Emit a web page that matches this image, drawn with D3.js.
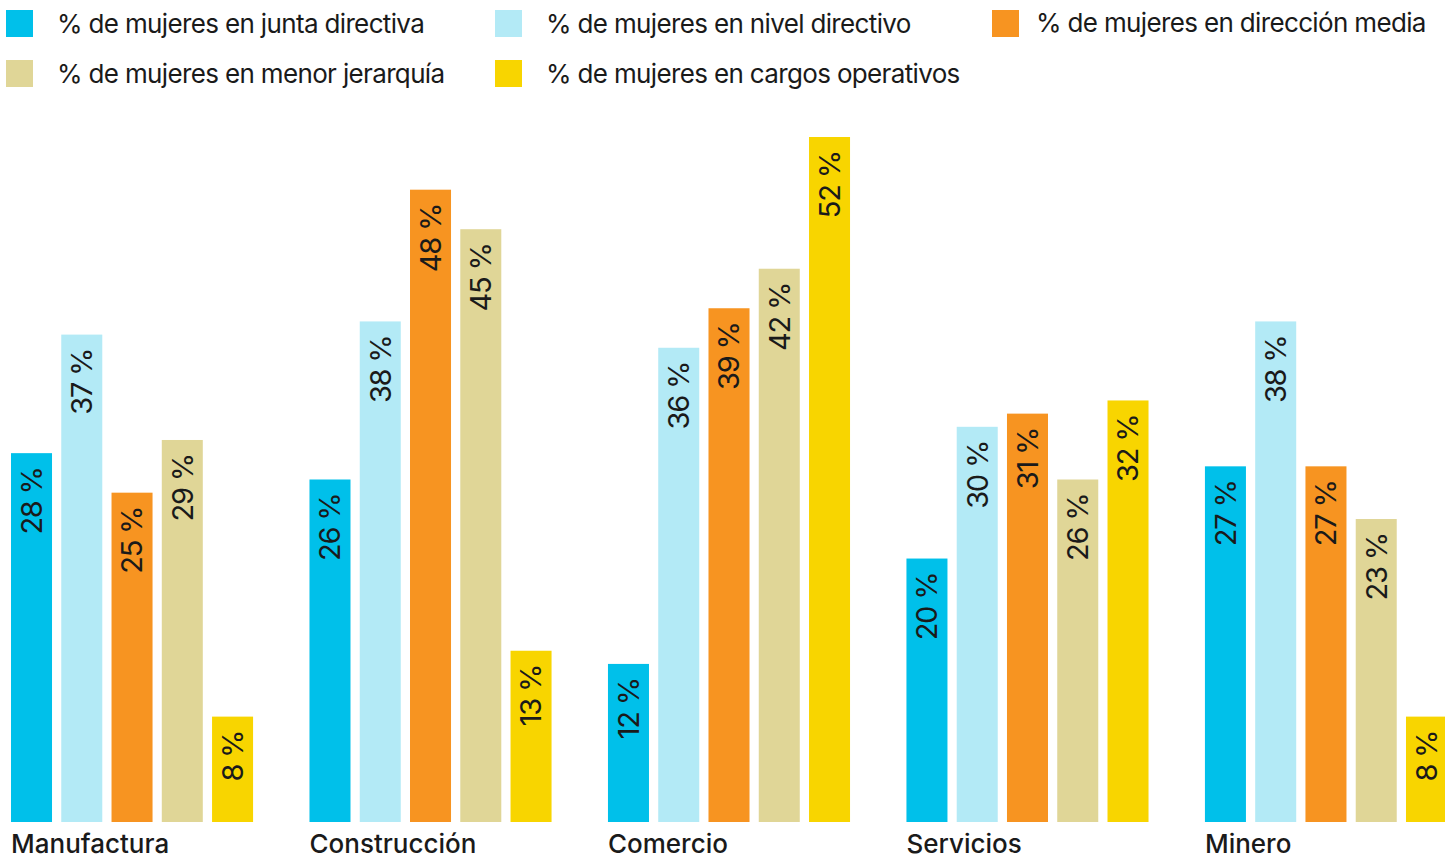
<!DOCTYPE html>
<html>
<head>
<meta charset="utf-8">
<script src="https://cdn.jsdelivr.net/npm/d3@7"></script>
<style>
  body { margin: 0; background: #fff; }
  text { font-family: Inter, "Noto Sans", sans-serif; fill: #1a1a1a; }
</style>
</head>
<body>
<div id="chart"></div>
<script>
// data
const categories = ["Manufactura", "Construcción", "Comercio", "Servicios", "Minero"];
const seriesNames = [
  "% de mujeres en junta directiva",
  "% de mujeres en nivel directivo",
  "% de mujeres en dirección media",
  "% de mujeres en menor jerarquía",
  "% de mujeres en cargos operativos"
];
const juntaDirectiva = [28, 26, 12, 20, 27];
const nivelDirectivo = [37, 38, 36, 30, 38];
const direccionMedia = [25, 48, 39, 31, 27];
const menorJerarquia = [29, 45, 42, 26, 23];
const cargosOperativos = [8, 13, 52, 32, 8];
const seriesValues = [juntaDirectiva, nivelDirectivo, direccionMedia, menorJerarquia, cargosOperativos];
const colors = ["#00c0ea", "#b3eaf6", "#f79421", "#e0d697", "#f8d500"];

// setup
const width = 1445, height = 860;
const svg = d3.select("#chart").append("svg")
    .attr("width", width)
    .attr("height", height);

const x0 = d3.scaleBand()
    .domain(categories)
    .range([11, 1447])
    .paddingInner(0.189)
    .paddingOuter(0);

const x1 = d3.scaleBand()
    .domain(d3.range(seriesNames.length))
    .range([0, x0.bandwidth()])
    .paddingInner(0.184)
    .paddingOuter(0);

const y = d3.scaleLinear().domain([0, 52]).range([822, 137]);

// legend: [square x, square y, text offset, text baseline]
const legendPos = [[6, 10, 51, 23], [495, 10, 51, 23], [992, 10, 44, 22], [6, 60, 51, 23], [495, 60, 51, 23]];
const legend = svg.append("g").selectAll("g")
    .data(seriesNames)
    .join("g")
    .attr("transform", (d, i) => "translate(" + legendPos[i][0] + "," + legendPos[i][1] + ")");
legend.append("rect")
    .attr("width", 27)
    .attr("height", 27)
    .attr("fill", (d, i) => colors[i]);
legend.append("text")
    .attr("x", (d, i) => legendPos[i][2])
    .attr("y", (d, i) => legendPos[i][3])
    .attr("font-size", 26)
    .attr("letter-spacing", -0.65)
    .text(d => d);

// bars
const groups = svg.append("g").selectAll("g")
    .data(categories)
    .join("g")
    .attr("transform", d => "translate(" + x0(d) + ",0)");

const bars = groups.selectAll("g")
    .data((d, ci) => seriesValues.map((vals, si) => ({si: si, v: vals[ci]})))
    .join("g");

bars.append("rect")
    .attr("x", d => x1(d.si))
    .attr("y", d => y(d.v))
    .attr("width", x1.bandwidth())
    .attr("height", d => y(0) - y(d.v))
    .attr("fill", d => colors[d.si]);

bars.append("text")
    .attr("transform", d => "translate(" + (x1(d.si) + x1.bandwidth() / 2) + "," + (y(d.v) + 14) + ") rotate(-90)")
    .attr("text-anchor", "end")
    .attr("dy", "0.36em")
    .attr("font-size", 29)
    .attr("letter-spacing", -1.2)
    .attr("fill", "#000")
    .text(d => d.v + " %");

// category labels
groups.append("text")
    .attr("x", 0)
    .attr("y", 853)
    .attr("font-size", 26)
    .attr("font-weight", 500)
    .text(d => d);
</script>
</body>
</html>
